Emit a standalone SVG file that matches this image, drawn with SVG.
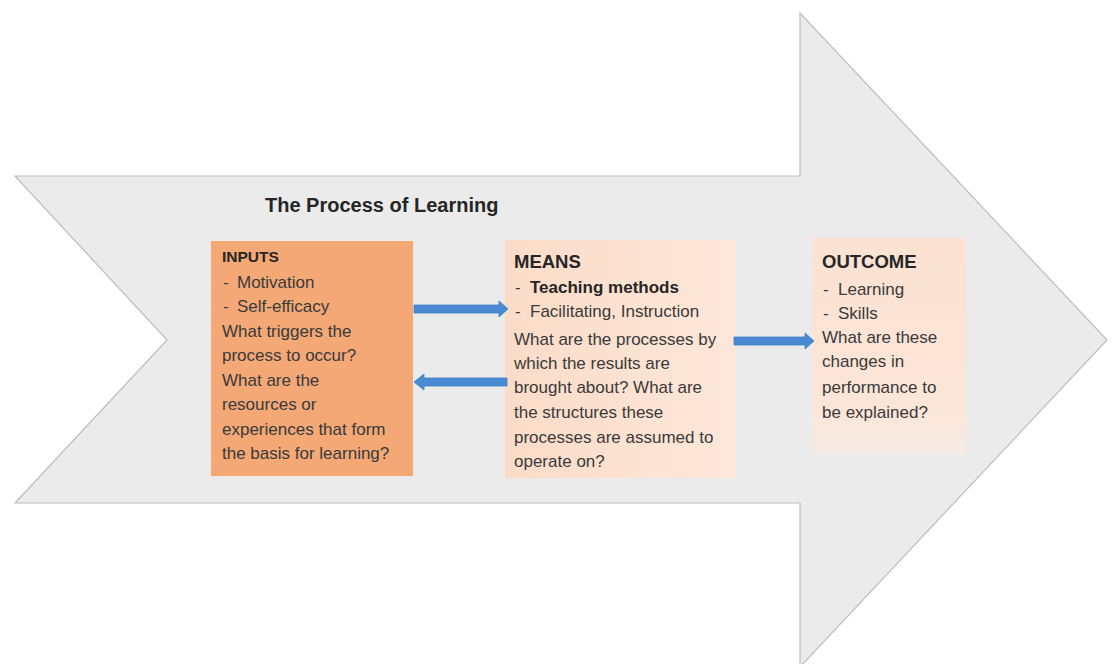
<svg xmlns="http://www.w3.org/2000/svg" width="1115" height="664" viewBox="0 0 1115 664">
<defs>
<style>
.t{font-family:"Liberation Sans",Arial,sans-serif;font-size:17px;fill:#3a3a3a}
.h{font-family:"Liberation Sans",Arial,sans-serif;font-weight:bold;fill:#262626}
.b{font-weight:bold;fill:#262626}
.conn{fill:#4a8ad2;stroke:#3f7fc6;stroke-width:0.8}
</style>
<linearGradient id="gm" x1="0" y1="0" x2="1" y2="0">
<stop offset="0" stop-color="#fbdcc7"/><stop offset="1" stop-color="#fde7da"/>
</linearGradient>
<linearGradient id="go" x1="0" y1="0" x2="0" y2="1">
<stop offset="0" stop-color="#fbe2d2"/><stop offset="0.8" stop-color="#fce6d9"/><stop offset="1" stop-color="#f5ebe5"/>
</linearGradient>
</defs>
<rect width="1115" height="664" fill="#ffffff"/>
<g id="big-arrow">
<polygon points="15,176 800,176 800,13 1107,340 800,667 800,503 15,503 167,340" fill="#ebebeb" stroke="#bdbdbd" stroke-width="1.2"/>
</g>
<g id="title">
<text class="h" x="265" y="212" font-size="20">The Process of Learning</text>
</g>
<g id="inputs">
<rect x="211" y="241" width="202" height="235" fill="#f3a876"/>
<text class="h" x="222" y="262" font-size="15.5">INPUTS</text>
<text class="t" x="223" y="288">-<tspan x="237">Motivation</tspan></text>
<text class="t" x="223" y="312">-<tspan x="237">Self-efficacy</tspan></text>
<text class="t" x="222" y="337">What triggers the</text>
<text class="t" x="222" y="361">process to occur?</text>
<text class="t" x="222" y="386">What are the</text>
<text class="t" x="222" y="410">resources or</text>
<text class="t" x="222" y="435">experiences that form</text>
<text class="t" x="222" y="459">the basis for learning?</text>
</g>
<g id="means">
<rect x="505" y="240" width="231" height="238" fill="url(#gm)"/>
<text class="h" x="514" y="268" font-size="18.5">MEANS</text>
<text class="t" x="515" y="293">-<tspan x="530" class="b">Teaching methods</tspan></text>
<text class="t" x="515" y="317">-<tspan x="530">Facilitating, Instruction</tspan></text>
<text class="t" x="514" y="345">What are the processes by</text>
<text class="t" x="514" y="369">which the results are</text>
<text class="t" x="514" y="393">brought about? What are</text>
<text class="t" x="514" y="418">the structures these</text>
<text class="t" x="514" y="443">processes are assumed to</text>
<text class="t" x="514" y="467">operate on?</text>
</g>
<g id="outcome">
<rect x="812" y="238" width="154" height="216" fill="url(#go)"/>
<text class="h" x="822" y="268" font-size="18.5">OUTCOME</text>
<text class="t" x="823" y="295">-<tspan x="838">Learning</tspan></text>
<text class="t" x="823" y="319">-<tspan x="838">Skills</tspan></text>
<text class="t" x="822" y="343">What are these</text>
<text class="t" x="822" y="367">changes in</text>
<text class="t" x="822" y="393">performance to</text>
<text class="t" x="822" y="418">be explained?</text>
</g>
<g id="connectors">
<polygon class="conn" points="414,305 499,305 499,301 508,309 499,317 499,313 414,313"/>
<polygon class="conn" points="507,378 424,378 424,374 414,382 424,390 424,386 507,386"/>
<polygon class="conn" points="734,337 805,337 805,333 814,341 805,349 805,345 734,345"/>
</g>
</svg>
